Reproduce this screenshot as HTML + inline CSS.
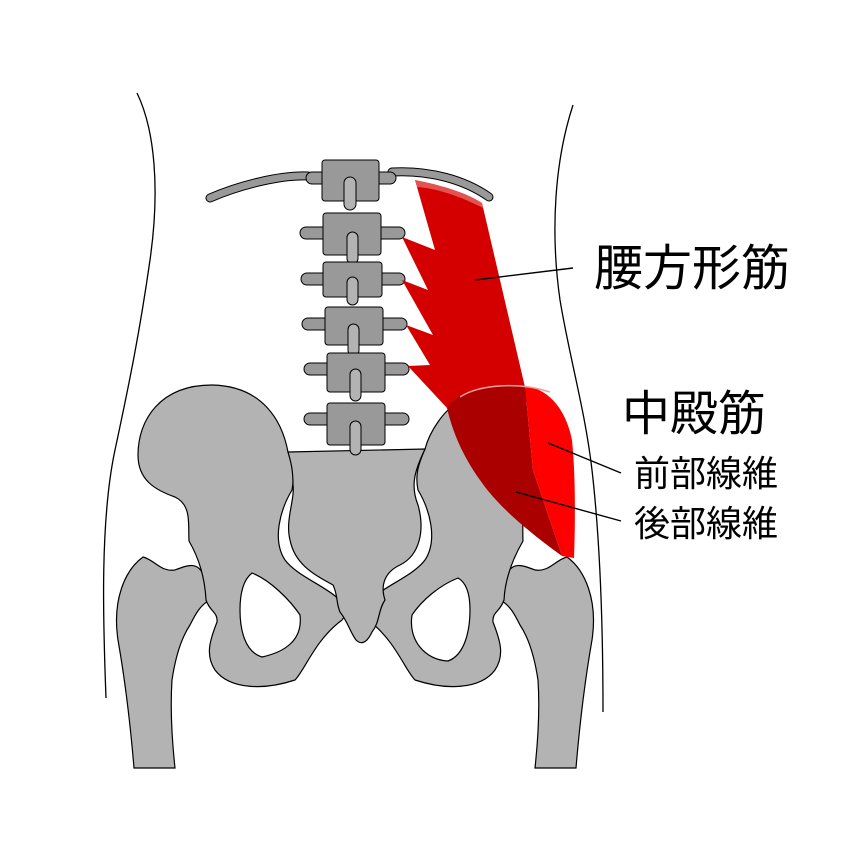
<!DOCTYPE html>
<html><head><meta charset="utf-8"><style>
html,body{margin:0;padding:0;background:#fff;}
svg{display:block}
text{font-family:"Liberation Sans","Noto Sans CJK JP",sans-serif;fill:#000}
</style></head><body>
<svg width="845" height="845" viewBox="0 0 845 845" xmlns="http://www.w3.org/2000/svg">
<rect width="845" height="845" fill="#fff"/>
<path d="M137,93 C155,130 160,190 150,260 C140,330 130,380 115,450 C100,520 103,620 106,698" fill="none" stroke="#000" stroke-width="1.3"/>
<path d="M573,105 C555,160 550,230 560,300 C570,360 585,410 592,470 C600,540 603,630 603,712" fill="none" stroke="#000" stroke-width="1.3"/>

<g stroke="#000" stroke-width="1.2" fill="#b3b3b3">
<path d="M143,557 C155,560 160,572 175,570 C188,565 200,560 205,580 L210,600 C200,605 195,615 190,625 C180,640 175,660 172,680 C170,710 172,740 175,768 L134,768 C130,720 125,680 118,640 C112,600 125,570 143,557 Z"/>
<path d="M567,557 C555,560 550,572 535,570 C522,565 510,560 505,580 L500,600 C510,605 515,615 520,625 C530,640 535,660 538,680 C540,710 538,740 535,768 L576,768 C580,720 585,680 592,640 C598,600 585,570 567,557 Z"/>
<path d="M288,452 C282,420 262,386 212,385 C160,385 138,420 138,455 C138,480 155,490 175,497 C192,505 188,525 189,541 C200,560 205,580 206,600 C210,612 218,612 217,622 C210,640 205,655 215,670 C230,690 265,690 295,680 C305,670 315,640 342,620 L348,612 C340,590 300,580 285,560 C272,540 280,510 292,490 C295,475 292,465 288,452 Z"/>
<path d="M425,449 C430,430 445,410 455,405 C490,400 510,430 520,450 C525,480 522,520 523,541 C512,560 505,580 504,600 C500,612 492,612 493,622 C500,640 505,655 495,670 C480,690 445,690 415,680 C405,670 395,640 368,620 L362,612 C370,590 410,580 425,560 C438,540 430,510 418,490 C415,475 418,465 425,449 Z"/>
<path d="M288,452 L425,449 C415,470 410,485 418,505 C425,530 420,555 400,565 C385,572 380,585 385,600 C378,610 380,622 372,632 C366,645 360,644 356,640 C350,632 348,622 340,612 C336,603 338,595 333,585 C315,575 295,565 290,540 C285,520 295,500 293,485 C293,470 291,462 288,452 Z"/>
</g>
<path d="M252,573 C270,580 290,600 300,615 C303,640 285,652 262,657 C245,652 240,630 240,610 C240,595 243,580 252,573 Z" fill="#fff" stroke="#000" stroke-width="1.2"/>
<path d="M458,578 C440,585 422,600 412,615 C408,640 425,660 448,661 C465,655 470,630 470,610 C470,595 467,583 458,578 Z" fill="#fff" stroke="#000" stroke-width="1.2"/>

<path d="M210,198 C240,185 280,175 308,176" fill="none" stroke="#000" stroke-width="9" stroke-linecap="round"/>
<path d="M210,198 C240,185 280,175 308,176" fill="none" stroke="#999" stroke-width="7" stroke-linecap="round"/>
<path d="M392,172 C430,170 465,180 489,197" fill="none" stroke="#000" stroke-width="9" stroke-linecap="round"/>
<path d="M392,172 C430,170 465,180 489,197" fill="none" stroke="#999" stroke-width="7" stroke-linecap="round"/>

<g stroke="#000" stroke-width="1" fill="#999">
<rect x="306" y="172" width="90" height="12" rx="6"/>
<rect x="322" y="160" width="57" height="41" rx="3"/>
<rect x="344" y="177" width="12" height="33" rx="6" fill="#b3b3b3"/>
<rect x="300" y="227" width="105" height="12" rx="6"/>
<rect x="323" y="213" width="58" height="42" rx="3"/>
<rect x="347" y="232" width="11" height="32" rx="5.5" fill="#b3b3b3"/>
<rect x="301" y="273" width="104" height="12" rx="6"/>
<rect x="323" y="262" width="59" height="35" rx="3"/>
<rect x="347" y="277" width="11" height="28" rx="5.5" fill="#b3b3b3"/>
<rect x="302" y="318" width="105" height="12" rx="6"/>
<rect x="325" y="307" width="58" height="38" rx="3"/>
<rect x="348" y="324" width="11" height="32" rx="5.5" fill="#b3b3b3"/>
<rect x="304" y="363" width="105" height="12" rx="6"/>
<rect x="327" y="353" width="58" height="39" rx="3"/>
<rect x="350" y="369" width="11" height="32" rx="5.5" fill="#b3b3b3"/>
<rect x="304" y="413" width="105" height="12" rx="6"/>
<rect x="327" y="403" width="58" height="42" rx="3"/>
<rect x="350" y="421" width="11" height="34" rx="5.5" fill="#b3b3b3"/>
</g>

<path d="M415,180 C440,185 465,192 482,203 L528,400 L470,420 L447,408 L408,366 L430,365 L406,325 L433,335 L402,280 L428,290 L402,237 L435,250 Z" fill="#d40000"/>
<path d="M415,180 C440,185 465,192 482,203 L483,208 C460,196 435,188 417,187 Z" fill="#e88" opacity="0.6"/>

<path d="M447,408 C460,390 485,385 525,386 L533,470 L562,556 C540,540 500,510 480,480 C462,455 452,430 447,408 Z" fill="#aa0000"/>
<path d="M525,386 C545,388 565,405 572,440 C576,480 575,530 574,558 L562,556 L533,470 Z" fill="#ff0000"/>
<path d="M460,397 C480,384 520,382 550,392" fill="none" stroke="#e9a0a0" stroke-width="1.5"/>

<g stroke="#000" stroke-width="1.4">
<line x1="475" y1="280" x2="573" y2="268"/>
<line x1="548" y1="443" x2="621" y2="473"/>
<line x1="516" y1="492" x2="621" y2="521"/>
</g>

<text x="594" y="285" font-size="49">腰方形筋</text>
<text x="622" y="430" font-size="48">中殿筋</text>
<text x="634" y="486" font-size="36">前部線維</text>
<text x="634" y="536" font-size="36">後部線維</text>
</svg>
</body></html>
